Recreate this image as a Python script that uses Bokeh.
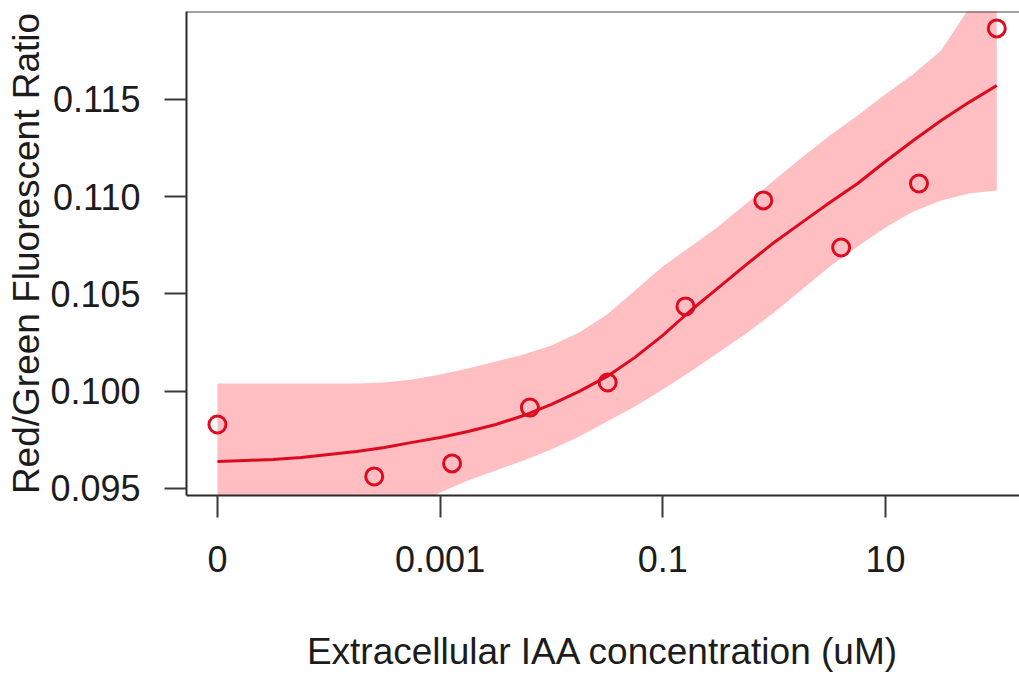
import numpy as np
from bokeh.plotting import figure
from bokeh.models import (ColumnDataSource, FixedTicker, NumeralTickFormatter,
                          Range1d, Span)
from bokeh.embed import file_html
from bokeh.resources import INLINE

# Measured red/green ratios at each extracellular IAA concentration (uM)
conc = [0, 0.000256, 0.00128, 0.0064, 0.032, 0.16, 0.8, 4, 20, 100]
ratio = [0.09829, 0.09562, 0.09629, 0.09916, 0.10045,
         0.10436, 0.10981, 0.10739, 0.11068, 0.11865]

# Fitted dose-response curve and its confidence band, sampled every
# quarter decade along log10(conc)
fit_log10 = [-5.0, -4.75, -4.5, -4.25, -4.0, -3.75, -3.5, -3.25, -3.0, -2.75,
             -2.5, -2.25, -2.0, -1.75, -1.5, -1.25, -1.0, -0.75, -0.5, -0.25,
             0.0, 0.25, 0.5, 0.75, 1.0, 1.25, 1.5, 1.75, 2.0]
fit_mid = [0.09639, 0.09644, 0.09649, 0.09659, 0.09675, 0.09690, 0.09711, 0.09737,
           0.09762, 0.09793, 0.09829, 0.09875, 0.09932, 0.09999, 0.10076, 0.10174,
           0.10287, 0.10415, 0.10533, 0.10651, 0.10765, 0.10868, 0.10970, 0.11068,
           0.11181, 0.11289, 0.11392, 0.11485, 0.11572]
fit_upper = [0.10040, 0.10040, 0.10040, 0.10040, 0.10040, 0.10040, 0.10045, 0.10060,
             0.10086, 0.10117, 0.10153, 0.10189, 0.10235, 0.10302, 0.10395, 0.10518,
             0.10641, 0.10744, 0.10847, 0.10965, 0.11084, 0.11202, 0.11315, 0.11418,
             0.11526, 0.11629, 0.11752, 0.11968, 0.12189]
fit_lower = [0.09233, 0.09238, 0.09248, 0.09258, 0.09279, 0.09305, 0.09346, 0.09407,
             0.09479, 0.09541, 0.09593, 0.09644, 0.09701, 0.09767, 0.09844, 0.09922,
             0.10009, 0.10102, 0.10199, 0.10297, 0.10405, 0.10523, 0.10641, 0.10744,
             0.10842, 0.10924, 0.10981, 0.11017, 0.11032]

# Axis ticks
x_tick_conc = [0, 0.001, 0.1, 10]
x_tick_labels = ["0", "0.001", "0.1", "10"]
y_ticks = [0.095, 0.100, 0.105, 0.110, 0.115]

# A zero concentration is shown at 1e-5 uM on the log axis
ZERO_AT = 1e-5


def to_log(values):
    return [np.log10(v if v > 0 else ZERO_AT) for v in values]


RED = "#DD0B1F"
BAND = "#FFBEC2"
INK = "#1c1c1c"
FONT = "Liberation Sans"

p = figure(width=1019, height=674, output_backend="svg", toolbar_location=None,
           x_range=Range1d(-5.278, 2.204), y_range=Range1d(0.09464, 0.11952),
           min_border_left=186, min_border_right=0, min_border_top=11,
           min_border_bottom=179)
p.outline_line_color = None
p.grid.visible = False
p.background_fill_color = "white"
p.border_fill_color = "white"

band_src = ColumnDataSource(dict(x=fit_log10, lo=fit_lower, hi=fit_upper, mid=fit_mid))
p.varea(x="x", y1="lo", y2="hi", source=band_src, fill_color=BAND, fill_alpha=1.0)
p.line(x="x", y="mid", source=band_src, line_color=RED, line_width=3,
       line_join="round")

pts = ColumnDataSource(dict(x=to_log(conc), y=ratio))
p.scatter(x="x", y="y", source=pts, marker="circle", size=17,
          fill_color=None, line_color=RED, line_width=3)

# top edge of the plot box
p.add_layout(Span(location=p.y_range.end, dimension="width",
                  line_color="#444444", line_width=2))

xt = to_log(x_tick_conc)
p.xaxis.ticker = FixedTicker(ticks=xt)
p.xaxis.major_label_overrides = {t: lab for t, lab in zip(xt, x_tick_labels)}
p.yaxis.ticker = FixedTicker(ticks=y_ticks)
p.yaxis.formatter = NumeralTickFormatter(format="0.000")

for ax in (p.xaxis[0], p.yaxis[0]):
    ax.axis_line_color = "#2a2a2a"
    ax.axis_line_width = 2
    ax.major_tick_line_color = "#3a3a3a"
    ax.major_tick_line_width = 2
    ax.major_tick_out = 22
    ax.major_tick_in = 0
    ax.minor_tick_out = 0
    ax.minor_tick_in = 0
    ax.major_label_text_font = FONT
    ax.major_label_text_font_size = "36px"
    ax.major_label_text_color = INK
    ax.major_label_standoff = 24
    ax.axis_label_text_font = FONT
    ax.axis_label_text_font_size = "37px"
    ax.axis_label_text_font_style = "normal"
    ax.axis_label_text_color = INK

p.xaxis.major_label_standoff = 28
p.xaxis.axis_label = "Extracellular IAA concentration (uM)"
p.xaxis.axis_label_standoff = 56
p.yaxis.axis_label = "Red/Green Fluorescent Ratio"
p.yaxis.axis_label_standoff = 0
p.yaxis.major_label_orientation = "horizontal"

open("out.html", "w").write(file_html(p, INLINE))
